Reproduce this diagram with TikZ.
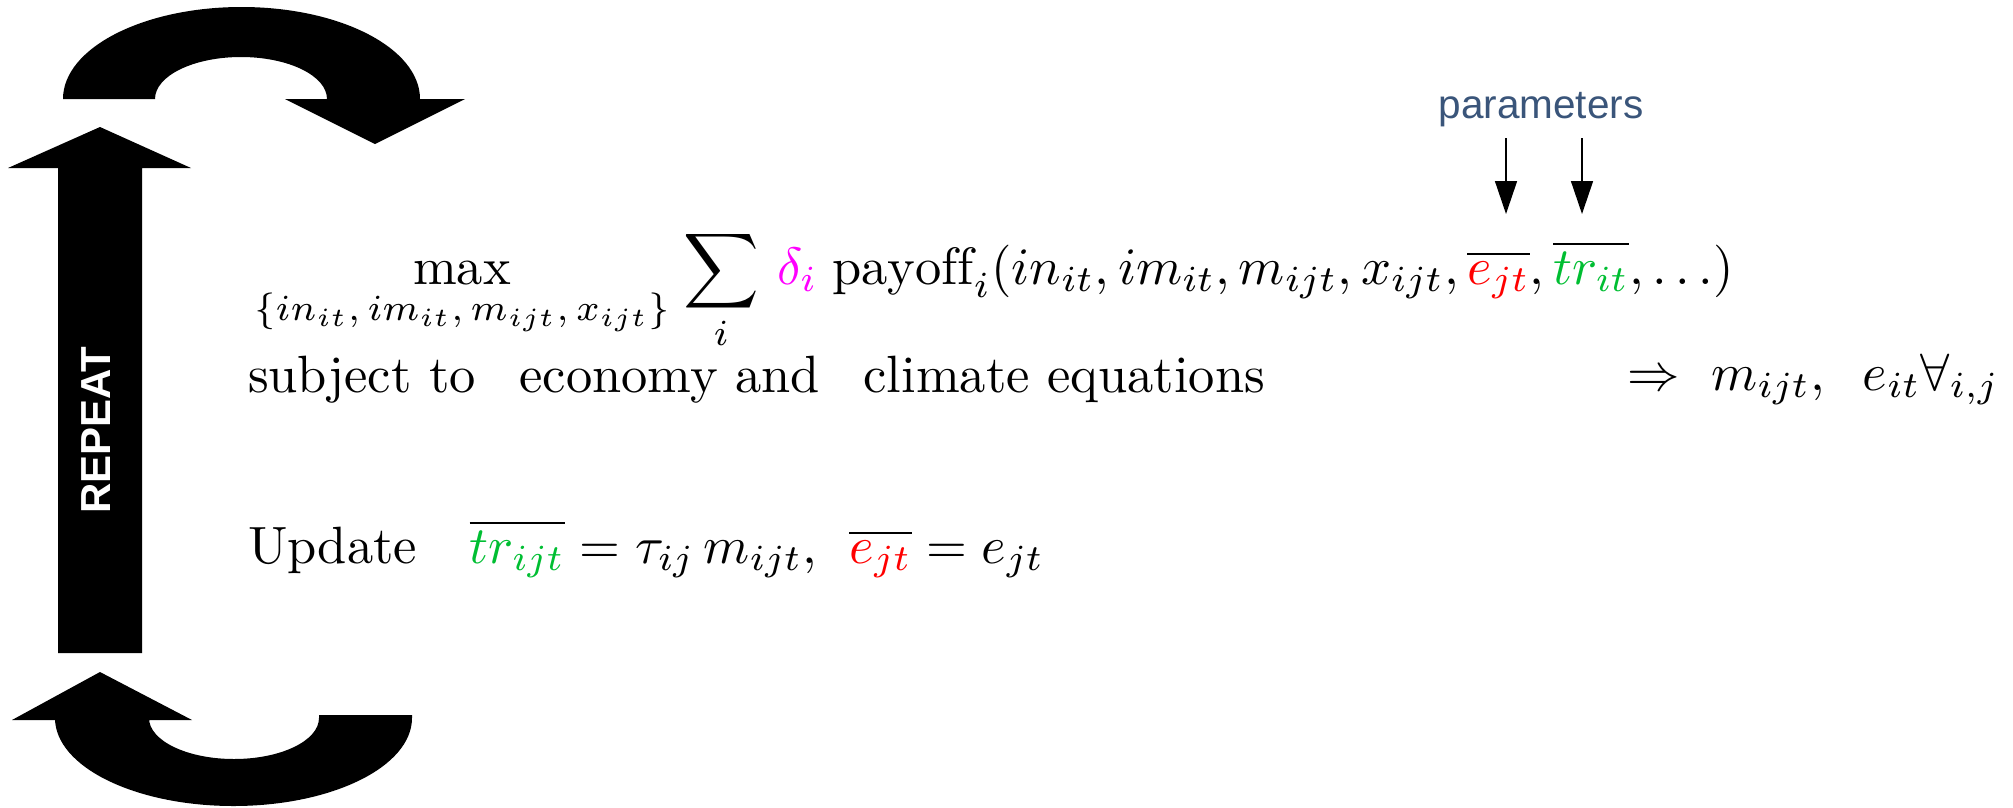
\RequirePackage{fix-cm}
\documentclass[tikz,border=0pt]{standalone}
\usepackage{amsmath}
\usepackage{graphicx}
\usepackage{fontspec}
\newfontfamily\arialf{Liberation Sans}
\usetikzlibrary{arrows.meta}
\definecolor{magd}{RGB}{255,0,255}
\definecolor{rede}{RGB}{255,0,0}
\definecolor{grnt}{RGB}{0,190,50}
\definecolor{paramc}{RGB}{58,85,122}
\newcommand\sclt[1]{\scalebox{5.25}{#1}}
\begin{document}
\begin{tikzpicture}[x=1pt,y=-1pt,
  big/.style={inner sep=0pt, outer sep=0pt, font=\normalsize},
  blk/.style={fill=black, draw=none},
  parrow/.style={-{Triangle[length=33pt,width=22pt]}, line width=1.5pt},
  paramlabel/.style={inner sep=0pt, text=paramc, font=\arialf\fontsize{40.5}{48}\selectfont},
  repeatlabel/.style={inner sep=0pt, rotate=90, text=white, font=\arialf\bfseries\fontsize{42}{50}\selectfont}
]
\useasboundingbox (0,0) rectangle (2013,807);

% vertical arrow
\path[blk] (58,653) -- (142,653) -- (142,168) -- (191,168) -- (100,127) -- (8,168) -- (58,168) -- cycle;
\node[repeatlabel] (rep) at (96,430) {REPEAT};

% top curved arrow
\path[blk] (63,99) arc[start angle=180, end angle=360, x radius=178.5, y radius=92]
  -- (465,99) -- (375,144) -- (285,99) -- (327,99)
  arc[start angle=0, end angle=-180, x radius=86, y radius=42] -- cycle;

% bottom curved arrow
\path[blk] (100,672) -- (192,720) -- (149,720) -- (149,718)
  arc[start angle=180, end angle=0, x radius=85, y radius=41]
  -- (319,715) -- (412,715) -- (412,718)
  arc[start angle=0, end angle=180, x radius=178.5, y radius=88]
  -- (55,720) -- (12,720) -- cycle;

% formula line 1
\node[big, anchor=base] (maxop) at (462,284) {\sclt{$\displaystyle\max_{\{in_{it},\,im_{it},\,m_{ijt},\,x_{ijt}\}}$}};
\node[big, anchor=base] (sumop) at (721,284) {\sclt{$\displaystyle\sum_{i}$}};
\node[big, anchor=base west] (payoff) at (777,284) {\sclt{$\textcolor{magd}{\delta_i}\;\mathrm{payoff}_i(in_{it}, im_{it}, m_{ijt}, x_{ijt}, \overline{\textcolor{rede}{e_{jt}}}, \overline{\textcolor{grnt}{tr_{it}}}, \ldots)$}};

% parameters
\node[paramlabel, anchor=base] (params) at (1541,118) {parameters};
\coordinate (p1s) at (1506,138);
\coordinate (p1e) at (1506,214);
\coordinate (p2s) at (1582,138);
\coordinate (p2e) at (1582,214);
\draw[parrow] (p1s) -- (p1e);
\draw[parrow] (p2s) -- (p2e);

% line 2
\node[big, anchor=base west] (subj) at (248,392) {\sclt{subject to\ \ \,economy and\ \ \,climate equations}};
\node[big, anchor=base west] (impl) at (1627,390) {\sclt{$\Rightarrow\ m_{ijt},\;\; e_{it}\forall_{i,j}$}};

% line 3
\node[big, anchor=base west] (upd) at (248,563) {\sclt{Update\quad $\overline{\textcolor{grnt}{tr_{ijt}}} = \tau_{ij}\, m_{ijt},\;\, \overline{\textcolor{rede}{e_{jt}}} = e_{jt}$}};
\end{tikzpicture}
\end{document}
